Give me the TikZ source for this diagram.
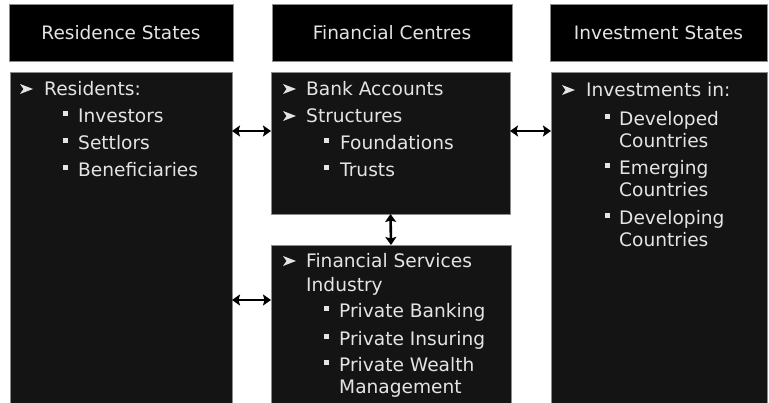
\documentclass[tikz,border=0pt]{standalone}
\usepackage{fontspec}
\setmainfont{DejaVu Sans}
\usetikzlibrary{arrows.meta}
\definecolor{boxfill}{HTML}{141414}
\definecolor{txt}{HTML}{E4E4E4}
\definecolor{edge}{HTML}{8C8C8C}
\begin{document}
\begin{tikzpicture}[x=1pt,y=-1pt,
  hdr/.style={draw=edge, fill=black, line width=0.6pt, inner sep=0pt, outer sep=0pt,
    anchor=north west, text=txt, font=\fontsize{18.5}{20}\selectfont},
  body/.style={draw=edge, fill=boxfill, line width=0.6pt, inner sep=0pt, outer sep=0pt,
    anchor=north west},
  bt/.style={text=txt, font=\fontsize{18.6}{20}\selectfont, anchor=base west, inner sep=0pt},
  abullet/.pic={\fill[txt] (0,-12) -- (13,-7) -- (0,-2) -- (3.5,-7) -- cycle;},
  sqbullet/.pic={\fill[txt] (0,-11.5) rectangle (5,-6.5);},
  link/.style={{Stealth[length=8pt,width=11pt,inset=1.5pt]}-{Stealth[length=8pt,width=11pt,inset=1.5pt]},
    line width=2.6pt, draw=black}]
\useasboundingbox (0,0) rectangle (769,403);

% headers
\node[hdr, minimum width=224, minimum height=57] (h1) at (9,4) {Residence States};
\node[hdr, minimum width=240, minimum height=57] (h2) at (272,4) {Financial Centres};
\node[hdr, minimum width=217, minimum height=57] (h3) at (550,4) {Investment States};

% body boxes
\node[body, minimum width=222, minimum height=331] (b1) at (10,72) {};
\node[body, minimum width=239, minimum height=142] (b2) at (271,72) {};
\node[body, minimum width=240, minimum height=158] (b3) at (271,245) {};
\node[body, minimum width=216, minimum height=331] (b4) at (551,72) {};

% left box text
\pic at (20,96) {abullet};
\node[bt] (t1) at (44,96) {Residents:};
\pic at (63,123) {sqbullet};
\node[bt] (t2) at (78,123) {Investors};
\pic at (63,150) {sqbullet};
\node[bt] (t3) at (78,150) {Settlors};
\pic at (63,177) {sqbullet};
\node[bt] (t4) at (78,177) {Beneficiaries};

% centre top text
\pic at (283,96) {abullet};
\node[bt] (c1) at (306,96) {Bank Accounts};
\pic at (283,123) {abullet};
\node[bt] (c2) at (306,123) {Structures};
\pic at (324,150) {sqbullet};
\node[bt] (c3) at (340,150) {Foundations};
\pic at (324,177) {sqbullet};
\node[bt] (c4) at (340,177) {Trusts};

% centre lower text
\pic at (283,268) {abullet};
\node[bt] (f1) at (306,268) {Financial Services};
\node[bt] (f2) at (306,292) {Industry};
\pic at (324,318) {sqbullet};
\node[bt] (f3) at (339,318) {Private Banking};
\pic at (324,346) {sqbullet};
\node[bt] (f4) at (339,346) {Private Insuring};
\pic at (324,372) {sqbullet};
\node[bt] (f5) at (339,372) {Private Wealth};
\node[bt] (f6) at (339,394) {Management};

% right box text
\pic at (562,97) {abullet};
\node[bt] (r1) at (586,97) {Investments in:};
\pic at (605,126) {sqbullet};
\node[bt] (r2) at (619,126) {Developed};
\node[bt] (r3) at (619,148) {Countries};
\pic at (605,175) {sqbullet};
\node[bt] (r4) at (619,175) {Emerging};
\node[bt] (r5) at (619,197) {Countries};
\pic at (605,225) {sqbullet};
\node[bt] (r6) at (619,225) {Developing};
\node[bt] (r7) at (619,247) {Countries};

% connectors
\coordinate (ya) at (0,131);
\coordinate (yb) at (0,300);
\draw[link] (b1.east |- ya) -- (b2.west |- ya);
\draw[link] (b2.east |- ya) -- (b4.west |- ya);
\draw[link] (b2.south) -- (b3.north);
\draw[link] (b1.east |- yb) -- (b3.west |- yb);
\end{tikzpicture}
\end{document}
